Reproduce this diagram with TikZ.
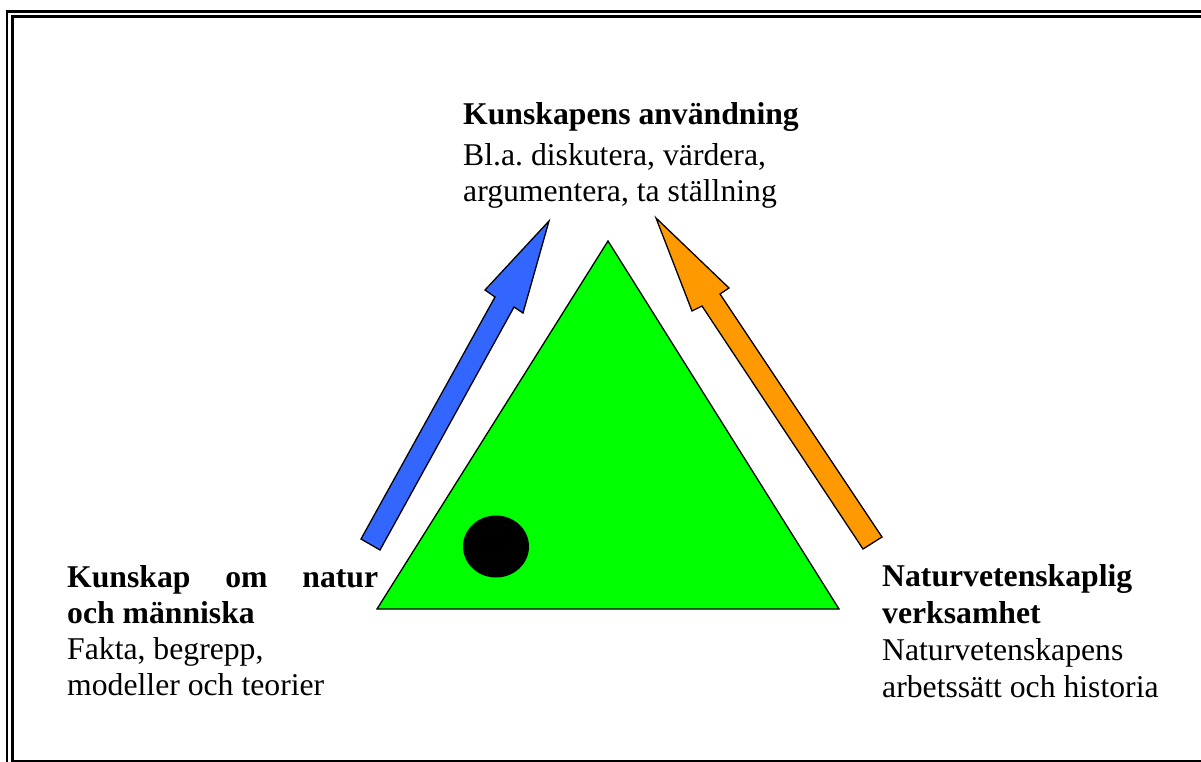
\documentclass[tikz,border=0pt]{standalone}
\usepackage{fontspec}
\setmainfont{Liberation Serif}
\frenchspacing
\begin{document}
\begin{tikzpicture}[x=1pt,y=-1pt,
  txt/.style={anchor=base west,inner sep=0pt,font=\fontsize{31.7}{36}\selectfont},
  btxt/.style={txt,font=\fontsize{31.7}{36}\selectfont\bfseries},
  shape outline/.style={draw=black,line width=1.3pt,line join=miter}]
\definecolor{arrowblue}{HTML}{3366FF}
\definecolor{arroworange}{HTML}{FF9900}
\definecolor{trigreen}{HTML}{00FF00}
\useasboundingbox (0,0) rectangle (1201,762);
% frame
\begin{scope}
\clip (0,0) rectangle (1201,762);
\draw[line width=2.5pt] (7,11.5) rectangle (1215,775);
\draw[line width=2.5pt] (12.5,16.5) rectangle (1208,761);
\end{scope}
% triangle
\coordinate (tA) at (608,241);
\coordinate (tL) at (377,609);
\coordinate (tR) at (839,609);
\filldraw[shape outline,fill=trigreen] (tL) -- (tR) -- (tA) -- cycle;
\fill[black] (496,546.5) ellipse [x radius=33, y radius=31];
% blue arrow
\filldraw[shape outline,fill=arrowblue]
  (361,539) -- (495,297) -- (485,290) -- (549,221) -- (523,313) -- (514,307) -- (380,550) -- cycle;
% orange arrow
\filldraw[shape outline,fill=arroworange]
  (863,549) -- (702,306) -- (692,311) -- (656,218) -- (729,288) -- (720,294) -- (882,537) -- cycle;
% texts top
\node[btxt] (t1) at (463,125) {Kunskapens användning};
\node[txt] (t2) at (463,165.5) {Bl.a. diskutera, värdera,};
\node[txt] (t3) at (463,201.5) {argumentera, ta ställning};
% left
\node[btxt] (l1) at (67,587) {\makebox[311pt][s]{Kunskap\hfill om\hfill natur}};
\node[btxt] (l2) at (67,623) {och människa};
\node[txt] (l3) at (67,659) {Fakta, begrepp,};
\node[txt] (l4) at (67,695) {modeller och teorier};
% right
\node[btxt] (r1) at (882,586) {Naturvetenskaplig};
\node[btxt] (r2) at (882,623) {verksamhet};
\node[txt] (r3) at (882,660) {Naturvetenskapens};
\node[txt] (r4) at (882,697) {arbetssätt och historia};
\end{tikzpicture}
\end{document}
